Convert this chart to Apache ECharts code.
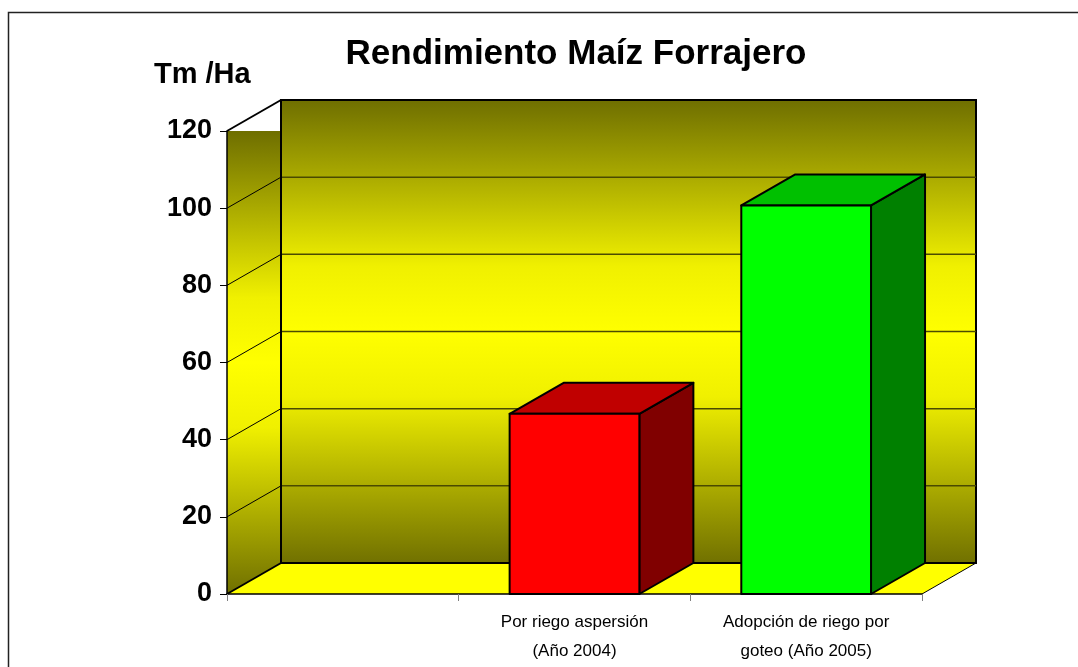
<!DOCTYPE html>
<html lang="es">
<head>
<meta charset="UTF-8">
<title>Rendimiento Maíz Forrajero</title>
<script src="https://cdn.jsdelivr.net/npm/echarts@6/dist/echarts.min.js"></script>
<style>
    * { margin: 0; padding: 0; }
    #main { width: 1078px; height: 667px; background: #fff; }
</style>
</head>
<body>
<div id="main"></div>
<script>
    const categories = ['', 'Por riego aspersión\n(Año 2004)', 'Adopción de riego por\ngoteo (Año 2005)'];
    const rendimiento = [null, 46.7, 100.7];
    const yTicks = [0, 20, 40, 60, 80, 100, 120];

    const frontColors = ['#ff0000', '#ff0000', '#00ff00'];
    const topColors = ['#c00000', '#c00000', '#00c000'];
    const sideColors = ['#800000', '#800000', '#008000'];

    // 3d depth offset (px)
    const DX = 54, DY = -31;
    const FONT = '"Liberation Sans", Arial, sans-serif';

    let myChart = echarts.init(document.getElementById('main'));

    function wallGradient() {
        return new echarts.graphic.LinearGradient(0, 0, 0, 1, [
            { offset: 0, color: '#6e6e00' },
            { offset: 0.36, color: '#f0f000' },
            { offset: 0.5, color: '#ffff00' },
            { offset: 0.64, color: '#f0f000' },
            { offset: 1, color: '#707000' }
        ]);
    }

    function seg(x1, y1, x2, y2, color, width) {
        return { type: 'line', shape: { x1, y1, x2, y2 }, style: { stroke: color, lineWidth: width } };
    }

    // walls, floor and gridlines
    function renderWalls(params, api) {
        const cs = params.coordSys;
        const xl = cs.x, xr = cs.x + cs.width;
        const yb = api.coord([0, 0])[1];
        const yt = api.coord([0, yTicks[yTicks.length - 1]])[1];
        const children = [];
        children.push({
            type: 'rect',
            shape: { x: xl + DX, y: yt + DY, width: xr - xl, height: yb - yt },
            style: { fill: wallGradient(), stroke: '#000', lineWidth: 2 }
        });
        children.push({
            type: 'polygon',
            shape: { points: [[xl, yt], [xl + DX, yt], [xl + DX, yb + DY], [xl, yb]] },
            style: { fill: wallGradient() }
        });
        yTicks.slice(1, -1).forEach(v => {
            const y = api.coord([0, v])[1];
            children.push(seg(xl + DX, y + DY, xr + DX, y + DY, '#4a4a00', 1.5));
            children.push(seg(xl, y, xl + DX, y + DY, '#000', 1));
        });
        children.push(seg(xl, yt, xl + DX, yt + DY, '#000', 2));
        children.push(seg(xl + DX, yt + DY, xl + DX, yb + DY, '#000', 2));
        children.push({
            type: 'polygon',
            shape: { points: [[xl, yb], [xr, yb], [xr + DX, yb + DY], [xl + DX, yb + DY]] },
            style: { fill: '#ffff00' }
        });
        children.push(seg(xl, yb, xl + DX, yb + DY, '#000', 2));
        children.push(seg(xl + DX, yb + DY, xr + DX, yb + DY, '#000', 2));
        children.push(seg(xr, yb, xr + DX, yb + DY, '#000', 1));
        return { type: 'group', children };
    }

    // 3d column
    function renderBar(params, api) {
        const idx = api.value(0);
        const v = api.value(1);
        const top = api.coord([idx, v]);
        const base = api.coord([idx, 0]);
        const w = api.size([1, 0])[0] * 0.56;
        const x0 = top[0] - w / 2, x1 = top[0] + w / 2;
        const y0 = top[1], y1 = base[1];
        const edge = { stroke: '#000', lineWidth: 2, lineJoin: 'round' };
        return {
            type: 'group',
            children: [
                {
                    type: 'polygon',
                    shape: { points: [[x1, y0], [x1 + DX, y0 + DY], [x1 + DX, y1 + DY], [x1, y1]] },
                    style: Object.assign({ fill: sideColors[idx] }, edge)
                },
                {
                    type: 'polygon',
                    shape: { points: [[x0, y0], [x0 + DX, y0 + DY], [x1 + DX, y0 + DY], [x1, y0]] },
                    style: Object.assign({ fill: topColors[idx] }, edge)
                },
                {
                    type: 'rect',
                    shape: { x: x0, y: y0, width: w, height: y1 - y0 },
                    style: Object.assign({ fill: frontColors[idx] }, edge)
                }
            ]
        };
    }

    let barData = [];
    rendimiento.forEach((v, i) => {
        if (v != null) barData.push([i, v]);
    });

    let option = {
        animation: false,
        title: [{
            text: 'Rendimiento Maíz Forrajero',
            left: 571,
            top: 32,
            textAlign: 'center',
            textStyle: { fontSize: 35, fontWeight: 'bold', color: '#000', fontFamily: FONT }
        }, {
            text: 'Tm /Ha',
            left: 149,
            top: 55,
            textStyle: { fontSize: 29, fontWeight: 'bold', color: '#000', fontFamily: FONT }
        }],
        graphic: [{
            type: 'rect',
            shape: { x: 8.5, y: 12.5, width: 1200, height: 800 },
            style: { fill: 'none', stroke: '#222', lineWidth: 1.5 },
            silent: true
        }],
        grid: { left: 227, right: 156, top: 131, bottom: 73 },
        xAxis: {
            type: 'category',
            data: categories,
            boundaryGap: true,
            z: 10,
            axisLine: { lineStyle: { color: '#000', width: 1.5 } },
            axisTick: { show: true, interval: 0, length: 7, lineStyle: { color: '#808080' } },
            axisLabel: { interval: 0, fontSize: 17, lineHeight: 29, margin: 14, color: '#000', fontFamily: FONT }
        },
        yAxis: {
            type: 'value',
            min: 0,
            max: 120,
            interval: 20,
            z: 10,
            axisLine: { show: true, lineStyle: { color: '#000', width: 1.5 } },
            axisTick: { show: true, length: 7, lineStyle: { color: '#000' } },
            axisLabel: { fontSize: 27, fontWeight: 'bold', margin: 15, color: '#000', fontFamily: FONT },
            splitLine: { show: false }
        },
        series: [{
            type: 'custom',
            z: 1,
            clip: false,
            silent: true,
            renderItem: renderWalls,
            data: [[0, 0]]
        }, {
            type: 'custom',
            z: 3,
            clip: false,
            renderItem: renderBar,
            encode: { x: 0, y: 1 },
            data: barData
        }]
    };

    myChart.setOption(option);
</script>
</body>
</html>
